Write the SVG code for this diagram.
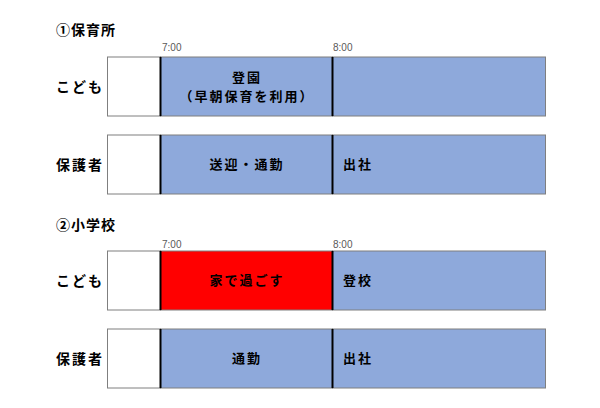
<svg xmlns="http://www.w3.org/2000/svg" width="600" height="408" viewBox="0 0 600 408">
<style>
text{font-family:"Noto Sans CJK JP","Noto Sans CJK SC",sans-serif;fill:#000}
.title{font-size:14px;font-weight:bold;letter-spacing:1px}
.lab{font-size:14px;font-weight:bold;letter-spacing:2px}
.cell{font-size:13px;font-weight:bold;letter-spacing:2px}
.time{font-family:"Liberation Sans",Arial,sans-serif;font-size:10px;fill:#595959}
.box{stroke:#7f7f7f;stroke-width:1}
.w{fill:#fff}
.b{fill:#8EA9DB}
.r{fill:#FF0000}
.div{stroke:#000;stroke-width:2}
</style>
<rect width="600" height="408" fill="#fff"/>
<text class="title" x="56" y="35">①保育所</text>
<text class="time" x="162" y="51">7:00</text>
<text class="time" x="333" y="51">8:00</text>
<g id="row1">
<text class="lab" x="56" y="92">こども</text>
<rect class="box w" x="107.5" y="57" width="53" height="59"/>
<rect class="box b" x="160.5" y="57" width="172" height="59"/>
<rect class="box b" x="332.5" y="57" width="213" height="59"/>
<line class="div" x1="160.5" y1="57" x2="160.5" y2="116"/>
<line class="div" x1="332.5" y1="57" x2="332.5" y2="116"/>
<text class="cell" x="247" y="82" text-anchor="middle">登園</text>
<text class="cell" x="247" y="101" text-anchor="middle">（早朝保育を利用）</text>
</g>
<g id="row2">
<text class="lab" x="56" y="170">保護者</text>
<rect class="box w" x="107.5" y="135" width="53" height="59"/>
<rect class="box b" x="160.5" y="135" width="172" height="59"/>
<rect class="box b" x="332.5" y="135" width="213" height="59"/>
<line class="div" x1="160.5" y1="135" x2="160.5" y2="194"/>
<line class="div" x1="332.5" y1="135" x2="332.5" y2="194"/>
<text class="cell" x="247" y="169" text-anchor="middle">送迎・通勤</text>
<text class="cell" x="343" y="169">出社</text>
</g>
<text class="title" x="56" y="230">②小学校</text>
<text class="time" x="162" y="248">7:00</text>
<text class="time" x="333" y="248">8:00</text>
<g id="row3">
<text class="lab" x="56" y="286">こども</text>
<rect class="box w" x="107.5" y="251" width="53" height="59"/>
<rect class="box r" x="160.5" y="251" width="172" height="59"/>
<rect class="box b" x="332.5" y="251" width="213" height="59"/>
<line class="div" x1="160.5" y1="251" x2="160.5" y2="310"/>
<line class="div" x1="332.5" y1="251" x2="332.5" y2="310"/>
<text class="cell" x="247" y="285" text-anchor="middle">家で過ごす</text>
<text class="cell" x="343" y="285">登校</text>
</g>
<g id="row4">
<text class="lab" x="56" y="364">保護者</text>
<rect class="box w" x="107.5" y="329" width="53" height="59"/>
<rect class="box b" x="160.5" y="329" width="172" height="59"/>
<rect class="box b" x="332.5" y="329" width="213" height="59"/>
<line class="div" x1="160.5" y1="329" x2="160.5" y2="388"/>
<line class="div" x1="332.5" y1="329" x2="332.5" y2="388"/>
<text class="cell" x="247" y="363" text-anchor="middle">通勤</text>
<text class="cell" x="343" y="363">出社</text>
</g>
<g id="connectors"></g>
</svg>
